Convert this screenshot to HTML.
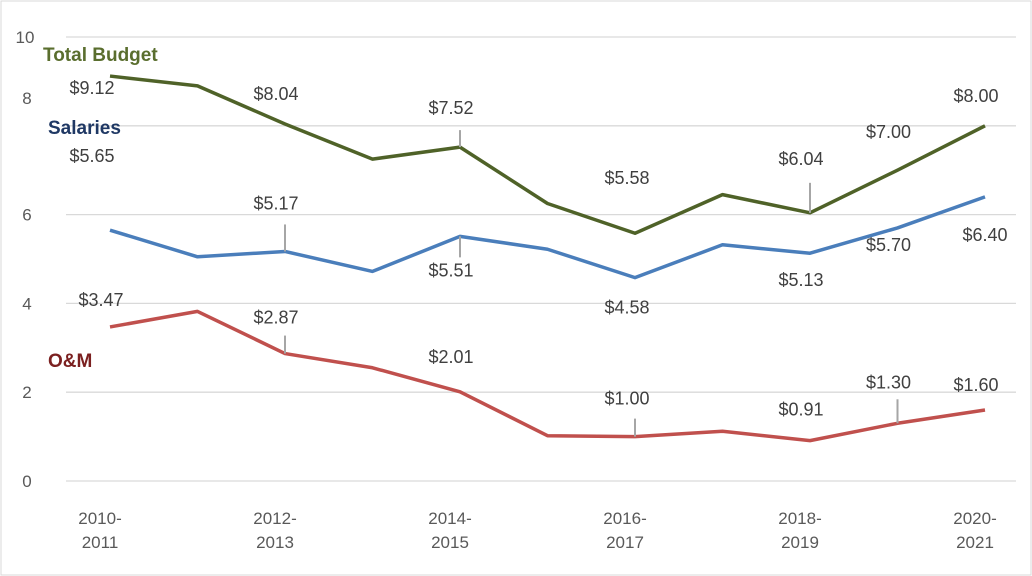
<!DOCTYPE html>
<html><head><meta charset="utf-8"><style>
body{margin:0;background:#fff;}
svg{display:block;font-family:"Liberation Sans",sans-serif;}
</style></head><body>
<svg id="c" width="1032" height="576">
<rect x="1" y="1" width="1030" height="574" fill="#fff" stroke="#d9d9d9"/>
<g id="grid"></g><g id="lines"></g><g id="labels"></g>
</svg>
<script>
const categories=["2010-2011","2011-2012","2012-2013","2013-2014","2014-2015","2015-2016","2016-2017","2017-2018","2018-2019","2019-2020","2020-2021"];
const totalBudget=[9.12,8.9,8.04,7.25,7.52,6.25,5.58,6.45,6.04,7.00,8.00];
const salaries=[5.65,5.05,5.17,4.72,5.51,5.22,4.58,5.32,5.13,5.70,6.40];
const om=[3.47,3.82,2.87,2.55,2.01,1.02,1.00,1.12,0.91,1.30,1.60];
const yTicks=[0,2,4,6,8,10];
const NS="http://www.w3.org/2000/svg";
const x=i=>110+i*87.5;
const y=v=>481-v*44.4;
function mk(tag,attrs,parent,text){const e=document.createElementNS(NS,tag);for(const k in attrs)e.setAttribute(k,attrs[k]);if(text!==undefined)e.textContent=text;parent.appendChild(e);return e;}
const grid=document.getElementById('grid'),lines=document.getElementById('lines'),labels=document.getElementById('labels');
yTicks.forEach(t=>{
 const l=mk('line',{x1:66,x2:1016,y1:y(t),y2:y(t),stroke:'#d9d9d9','stroke-width':1.3},grid);
 
 
 const ly=t===8?104:y(t)+6;
 const tx=mk('text',{x:t===10?25:27,y:ly,'text-anchor':'middle','font-size':17,fill:'#595959'},grid,String(t));
 
 
});
categories.forEach((c,i)=>{
 if(i%2)return;
 const p=c.split('-');
 const t=mk('text',{x:x(i)-10,y:524,'text-anchor':'middle','font-size':17,fill:'#595959'},grid);
 
 
 mk('tspan',{x:x(i)-10,dy:0},t,p[0]+'-');
 mk('tspan',{x:x(i)-10,dy:24},t,p[1]);
});
const series=[[totalBudget,'#4f6228','total-budget'],[salaries,'#4a7ebb','salaries'],[om,'#c0504d','om']];
series.forEach(([d,col,n])=>{
 const pl=mk('polyline',{points:d.map((v,i)=>x(i)+','+y(v)).join(' '),fill:'none',stroke:col,'stroke-width':3.5,'stroke-linejoin':'round'},lines);
 
 
});
const lab=[[totalBudget,0,-18,12],[totalBudget,2,-9,-30],[totalBudget,4,-9,-39],[totalBudget,6,-8,-55],[totalBudget,8,-9,-54],[totalBudget,9,-9,-38],[totalBudget,10,-9,-30],
[salaries,0,-18,-74],[salaries,2,-9,-48],[salaries,4,-9,34],[salaries,6,-8,30],[salaries,8,-9,27],[salaries,9,-9,17],[salaries,10,0,38],
[om,0,-9,-27],[om,2,-9,-36],[om,4,-9,-35],[om,6,-8,-38],[om,8,-9,-31],[om,9,-9,-41],[om,10,-9,-25]];
const leaders=[[totalBudget,4,-17],[totalBudget,8,-30],[salaries,2,-27],[salaries,4,21],[om,2,-18],[om,6,-18],[om,9,-24]];
leaders.forEach(([d,i,len])=>{
 const l=mk('line',{x1:x(i),x2:x(i),y1:y(d[i]),y2:y(d[i])+len,stroke:'#a6a6a6','stroke-width':2},labels);
 
 
});
lab.forEach(([d,i,dx,dy])=>{
 const t=mk('text',{x:x(i)+dx,y:y(d[i])+dy+6,'text-anchor':'middle','font-size':18,fill:'#404040'},labels,'$'+d[i].toFixed(2));
 
 
});
[['Total Budget',43,61,'#5a6e2e'],['Salaries',48,134,'#1f3864'],['O&M',48,367,'#7b2020']].forEach(([s,lx,ly,c])=>{
 const t=mk('text',{x:lx,y:ly,'font-size':19,'font-weight':'bold',fill:c},labels,s);
 
 
});
</script>
</body></html>
